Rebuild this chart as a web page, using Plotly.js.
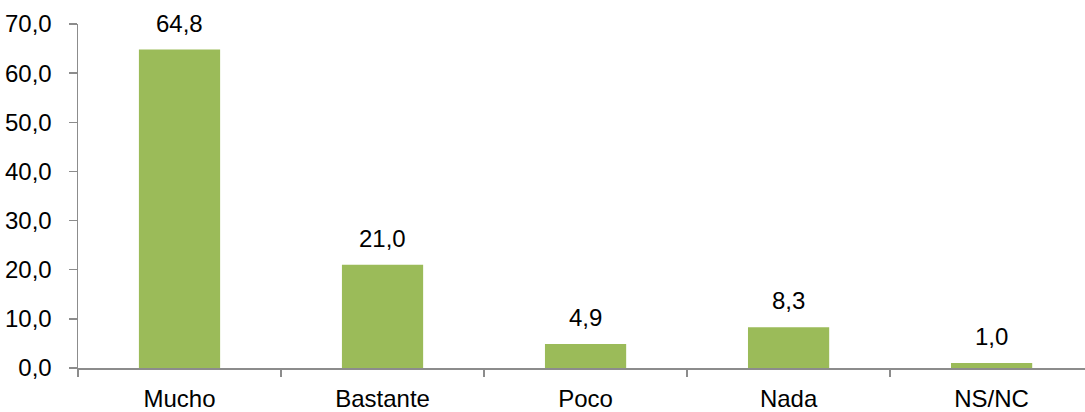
<!DOCTYPE html>
<html>
<head>
<meta charset="utf-8">
<script src="https://cdn.plot.ly/plotly-3.0.1.min.js"></script>
<style>html,body{margin:0;padding:0;background:#fff;}#chart{width:1085px;height:412px;}</style>
</head>
<body>
<div id="chart"></div>
<script>
const categories = ["Mucho", "Bastante", "Poco", "Nada", "NS/NC"];
const values = [64.8, 21.0, 4.9, 8.3, 1.0];
const yTicks = [0, 10, 20, 30, 40, 50, 60, 70];

const fontFamily = '"Liberation Sans", Arial, sans-serif';
const fmt = v => v.toFixed(1).replace('.', ',');

const trace = {
  type: 'bar',
  x: categories,
  y: values,
  width: 0.4,
  marker: {color: '#9BBB59'},
  hoverinfo: 'none'
};

const annotations = categories.map((c, i) => ({
  x: c, y: values[i], xref: 'x', yref: 'y',
  text: fmt(values[i]), showarrow: false,
  yanchor: 'bottom', yshift: 11,
  font: {family: fontFamily, size: 24, color: '#000'}
}));

const layout = {
  width: 1085, height: 412,
  margin: {l: 78, r: 0, t: 24, b: 44, pad: 0},
  paper_bgcolor: '#fff', plot_bgcolor: '#fff',
  separators: ',.',
  showlegend: false,
  font: {family: fontFamily, size: 24, color: '#000'},
  xaxis: {
    type: 'category',
    range: [-0.5, 4.46],
    showline: true, linecolor: '#8c8c8c', linewidth: 1.5,
    ticks: 'outside', tickson: 'boundaries', ticklen: 7, tickcolor: '#8c8c8c', tickwidth: 1.5,
    showgrid: false, zeroline: false,
    ticklabelstandoff: 9,
    tickfont: {family: fontFamily, size: 24, color: '#000'}
  },
  yaxis: {
    range: [0, 70],
    tickvals: yTicks,
    ticktext: yTicks.map(fmt),
    showline: true, linecolor: '#8c8c8c', linewidth: 1.5,
    ticks: 'outside', ticklen: 8, tickcolor: '#8c8c8c', tickwidth: 1.5,
    showgrid: false, zeroline: false,
    ticklabelstandoff: 12,
    tickfont: {family: fontFamily, size: 24, color: '#000'}
  },
  annotations: annotations
};

Plotly.newPlot('chart', [trace], layout, {displayModeBar: false, staticPlot: true});
</script>
</body>
</html>
